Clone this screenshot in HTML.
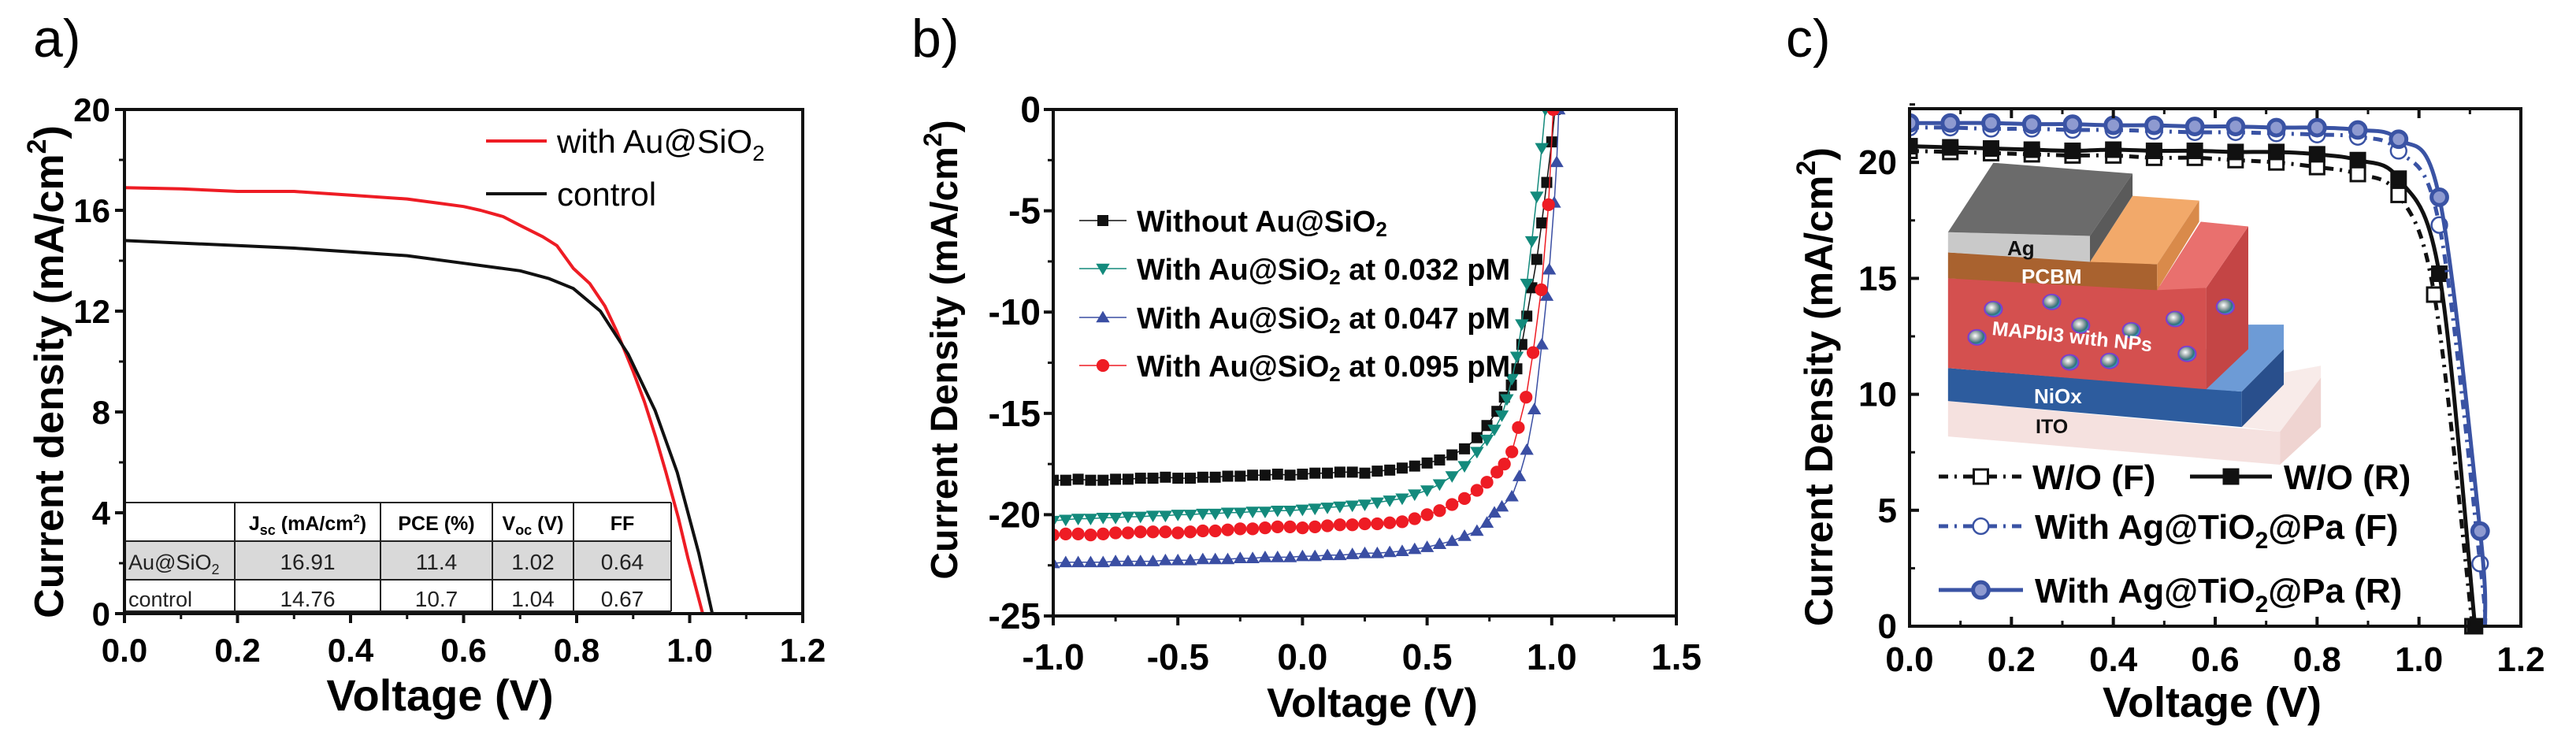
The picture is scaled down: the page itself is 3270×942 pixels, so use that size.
<!DOCTYPE html>
<html><head><meta charset="utf-8">
<style>
html,body{margin:0;padding:0;background:#fff;}
svg{display:block;font-family:"Liberation Sans",Arial,sans-serif;}
</style></head>
<body>
<svg id="fig" width="3270" height="942" viewBox="0 0 3270 942" xmlns="http://www.w3.org/2000/svg">
<rect x="0" y="0" width="3270" height="942" fill="#fff"/>
<g id="pa"></g>
<g id="pb"></g>
<g id="pc">
  <g transform="translate(2170,0) scale(0.693,0.599)">
    <defs>
      <radialGradient id="np" cx="0.4" cy="0.4" r="0.6">
        <stop offset="0" stop-color="#ffffff"/><stop offset="0.45" stop-color="#9aa7a8"/><stop offset="0.8" stop-color="#2e6f7a"/><stop offset="1" stop-color="#3aa8d8"/>
      </radialGradient>
    </defs>
    <polygon points="437,850 1045,915 1045,985 437,925" fill="#f5e1df"/>
    <polygon points="1045,915 1120,800 1120,905 1045,985" fill="#efd4d1"/>
    <polygon points="975,905 1050,790 1120,775 1120,800 1045,915" fill="#f8ebe9"/>
    <polygon points="437,780 975,830 975,905 437,850" fill="#2d5c9e"/>
    <polygon points="975,830 1052,740 1052,815 975,905" fill="#294f8c"/>
    <polygon points="910,740 975,688 1052,688 1052,740 975,830 910,825" fill="#6d9bd6"/>
    <polygon points="437,590 910,610 910,825 437,780" fill="#d4504f"/>
    <polygon points="910,610 987,480 987,740 910,825" fill="#c44545"/>
    <polygon points="820,615 900,470 987,480 910,610" fill="#e9706e"/>
    <polygon points="437,535 820,560 820,615 437,590" fill="#a9622f"/>
    <polygon points="697,555 775,415 897,425 820,560" fill="#f2a96a"/>
    <polygon points="820,560 897,425 897,470 820,615" fill="#d98a4a"/>
    <polygon points="437,492 697,500 697,555 437,535" fill="#c9c9c9"/>
    <polygon points="437,492 520,345 775,368 697,500" fill="#6b6b6b"/>
    <polygon points="697,500 775,368 775,415 697,555" fill="#5a5a5a"/>
    <g stroke="#7b3fd0" stroke-width="3">
      <circle cx="520" cy="655" r="16" fill="url(#np)"/>
      <circle cx="627" cy="640" r="16" fill="url(#np)"/>
      <circle cx="680" cy="690" r="16" fill="url(#np)"/>
      <circle cx="773" cy="700" r="16" fill="url(#np)"/>
      <circle cx="490" cy="715" r="16" fill="url(#np)"/>
      <circle cx="660" cy="768" r="16" fill="url(#np)"/>
      <circle cx="733" cy="765" r="16" fill="url(#np)"/>
      <circle cx="853" cy="676" r="16" fill="url(#np)"/>
      <circle cx="875" cy="750" r="16" fill="url(#np)"/>
      <circle cx="945" cy="650" r="16" fill="url(#np)"/>
    </g>
  </g>
  <text x="2548" y="324" font-size="26" font-weight="bold" fill="#111">Ag</text>
  <text x="2566" y="360" font-size="26" font-weight="bold" fill="#fff">PCBM</text>
  <text x="2528" y="425" font-size="25" font-weight="bold" fill="#fff" transform="rotate(6 2528 425)">MAPbI3 with NPs</text>
  <text x="2582" y="512" font-size="26" font-weight="bold" fill="#fff">NiOx</text>
  <text x="2584" y="550" font-size="25" font-weight="bold" fill="#111">ITO</text>
</g>
</svg>
<script>
// ---------- Panel a data ----------
const aRedV = [0,0.1,0.2,0.3,0.4,0.5,0.55,0.6,0.63,0.67,0.7,0.74,0.765,0.794,0.823,0.85,0.871,0.9,0.92,0.94,0.958,0.98,0.997,1.01,1.023];
const aRedJ = [16.9,16.85,16.75,16.75,16.6,16.45,16.3,16.15,16.0,15.75,15.4,14.95,14.6,13.7,13.1,12.2,11.2,9.6,8.4,7.0,5.6,3.8,2.2,1.1,0];
const aBlkV = [0,0.1,0.2,0.3,0.4,0.5,0.6,0.7,0.75,0.794,0.842,0.891,0.939,0.978,1.016,1.04];
const aBlkJ = [14.8,14.7,14.6,14.5,14.35,14.2,13.9,13.6,13.3,12.9,12.0,10.3,8.05,5.6,2.4,0];
const aXTicks = ["0.0","0.2","0.4","0.6","0.8","1.0","1.2"];
const aYTicks = ["0","4","8","12","16","20"];
const tblHead = ["", "J_sc (mA/cm2)", "PCE (%)", "V_oc (V)", "FF"];
const tblRow1 = ["Au@SiO2","16.91","11.4","1.02","0.64"];
const tblRow2 = ["control","14.76","10.7","1.04","0.67"];

// ---------- Panel b data ----------
const bBaseV = [-1.00,-0.95,-0.90,-0.85,-0.80,-0.75,-0.70,-0.65,-0.60,-0.55,-0.50,-0.45,-0.40,-0.35,-0.30,-0.25,-0.20,-0.15,-0.10,-0.05,0.00,0.05,0.10,0.15,0.20,0.25,0.30,0.35,0.40,0.45,0.50,0.55,0.60,0.65];
const bBlackJ = [-18.3,-18.3,-18.25,-18.3,-18.3,-18.25,-18.25,-18.2,-18.2,-18.15,-18.2,-18.2,-18.15,-18.15,-18.1,-18.1,-18.05,-18.05,-18.0,-18.05,-18.0,-17.95,-17.95,-17.9,-17.9,-17.95,-17.85,-17.8,-17.7,-17.6,-17.45,-17.3,-17.05,-16.75];
const bBlackKneeV = [0.70,0.74,0.78,0.81,0.838,0.86,0.88,0.90,0.92,0.94,0.96,0.98,1.0,1.013];
const bBlackKneeJ = [-16.2,-15.6,-14.9,-14.2,-13.6,-12.8,-11.6,-10.2,-8.8,-7.4,-5.6,-3.6,-1.6,0];
const bTealJ = [-20.3,-20.25,-20.2,-20.2,-20.15,-20.15,-20.1,-20.1,-20.05,-20.05,-20.0,-20.0,-19.95,-19.95,-19.9,-19.9,-19.85,-19.85,-19.8,-19.8,-19.75,-19.7,-19.65,-19.6,-19.55,-19.5,-19.4,-19.3,-19.2,-19.0,-18.8,-18.5,-18.1,-17.6];
const bTealKneeV = [0.70,0.74,0.77,0.80,0.82,0.84,0.86,0.88,0.90,0.92,0.94,0.96,0.974];
const bTealKneeJ = [-16.9,-16.3,-15.8,-15.1,-14.3,-13.3,-12.2,-10.6,-8.6,-6.5,-4.3,-1.9,0];
const bBlueJ = [-22.4,-22.35,-22.35,-22.35,-22.35,-22.3,-22.3,-22.3,-22.3,-22.25,-22.25,-22.25,-22.2,-22.2,-22.2,-22.15,-22.15,-22.1,-22.1,-22.1,-22.05,-22.05,-22.0,-22.0,-21.95,-21.9,-21.9,-21.85,-21.8,-21.7,-21.6,-21.45,-21.3,-21.05];
const bBlueKneeV = [0.70,0.74,0.77,0.80,0.84,0.87,0.90,0.93,0.96,0.98,0.99,1.01,1.02,1.028];
const bBlueKneeJ = [-20.8,-20.4,-19.9,-19.6,-19.1,-18.1,-16.8,-14.8,-11.6,-9.2,-7.9,-4.6,-2.6,0];
const bRedJ = [-21.0,-20.95,-20.95,-21.0,-20.95,-20.9,-20.9,-20.85,-20.85,-20.85,-20.9,-20.85,-20.8,-20.8,-20.75,-20.7,-20.7,-20.65,-20.6,-20.6,-20.65,-20.6,-20.55,-20.5,-20.5,-20.45,-20.45,-20.4,-20.35,-20.2,-20.0,-19.8,-19.5,-19.2];
const bRedKneeV = [0.70,0.74,0.78,0.81,0.84,0.866,0.897,0.925,0.958,0.987,1.006];
const bRedKneeJ = [-18.8,-18.4,-17.9,-17.5,-16.9,-15.7,-14.2,-12.0,-8.9,-4.7,0];
const bXTicks = ["-1.0","-0.5","0.0","0.5","1.0","1.5"];
const bYTicks = ["-25","-20","-15","-10","-5","0"];

// ---------- Panel c data ----------
const cV = [0,0.08,0.16,0.24,0.32,0.40,0.48,0.56,0.64,0.72,0.80,0.88,0.96,1.04,1.11];
const cWoR = [20.7,20.65,20.6,20.55,20.5,20.55,20.5,20.5,20.45,20.45,20.35,20.1,19.3,15.2,0];
const cVF = [0,0.08,0.16,0.24,0.32,0.40,0.48,0.56,0.64,0.72,0.80,0.88,0.96,1.03,1.105];
const cWoF = [20.5,20.45,20.4,20.35,20.3,20.3,20.2,20.2,20.1,20.0,19.8,19.5,18.6,14.3,0];
const cVB = [0,0.08,0.16,0.24,0.32,0.40,0.48,0.56,0.64,0.72,0.80,0.88,0.96,1.04,1.12,1.13];
const cAgR = [21.7,21.7,21.7,21.65,21.65,21.6,21.6,21.55,21.55,21.5,21.5,21.4,21.0,18.5,4.1,0];
const cAgF = [21.5,21.5,21.45,21.45,21.4,21.4,21.35,21.3,21.3,21.25,21.2,21.1,20.5,17.3,2.7,0];
const cXTicks = ["0.0","0.2","0.4","0.6","0.8","1.0","1.2"];
const cYTicks = ["0","5","10","15","20"];

const NS = "http://www.w3.org/2000/svg";
function mk(parent, tag, attrs, text){
  const e = document.createElementNS(NS, tag);
  for (const k in attrs) e.setAttribute(k, attrs[k]);
  if (text !== undefined) e.textContent = text;
  parent.appendChild(e);
  return e;
}
function lin(d0,d1,r0,r1){ return v => r0 + (v-d0)*(r1-r0)/(d1-d0); }
function pathD(xs, ys, sx, sy){
  return xs.map((v,i)=>(i?"L":"M")+sx(v).toFixed(1)+","+sy(ys[i]).toFixed(1)).join(" ");
}
function smoothD(xs, ys, sx, sy){
  const p = xs.map((v,i)=>[sx(v), sy(ys[i])]);
  let d = "M"+p[0][0].toFixed(1)+","+p[0][1].toFixed(1);
  for (let i=0;i<p.length-1;i++){
    const p0=p[Math.max(i-1,0)], p1=p[i], p2=p[i+1], p3=p[Math.min(i+2,p.length-1)];
    const c1=[p1[0]+(p2[0]-p0[0])/6, p1[1]+(p2[1]-p0[1])/6];
    const c2=[p2[0]-(p3[0]-p1[0])/6, p2[1]-(p3[1]-p1[1])/6];
    d += " C"+c1[0].toFixed(1)+","+c1[1].toFixed(1)+" "+c2[0].toFixed(1)+","+c2[1].toFixed(1)+" "+p2[0].toFixed(1)+","+p2[1].toFixed(1);
  }
  return d;
}

// ================= PANEL A =================
(function(){
  const g = document.getElementById("pa");
  const L=158,R=1019,T=139,B=779;
  const sx = lin(0,1.2,L,R), sy = lin(0,20,B,T);
  const lbl = mk(g,"text",{x:42,y:72,"font-size":68},"a)");
  
  
  // table
  const tb = mk(g,"g",{});
  
  
  const cols=[158,298,483,625,728,852], rows=[638,687,736,776];
  mk(tb,"rect",{x:158,y:687,width:694,height:49,fill:"#d9d9d9"});
  rows.forEach(y=>mk(tb,"line",{x1:158,x2:852,y1:y,y2:y,stroke:"#222","stroke-width":2}));
  cols.forEach(x=>mk(tb,"line",{x1:x,x2:x,y1:638,y2:776,stroke:"#222","stroke-width":2}));
  const hdr = [["",""],["J",'<tspan font-size="18" dy="6">sc</tspan><tspan dy="-6"> (mA/cm</tspan><tspan font-size="15" dy="-10">2</tspan><tspan dy="10">)</tspan>'],["PCE (%)",""],["V",'<tspan font-size="18" dy="6">oc</tspan><tspan dy="-6"> (V)</tspan>'],["FF",""]];
  for (let i=1;i<5;i++){
    const t = mk(tb,"text",{x:(cols[i]+cols[i+1])/2,y:673,"font-size":25,"font-weight":"bold","text-anchor":"middle"});
    t.innerHTML = hdr[i][0]+hdr[i][1];
    
    
  }
  [tblRow1,tblRow2].forEach((row,ri)=>{
    const y = ri?770:723;
    row.forEach((v,ci)=>{
      let t;
      if (ci===0){
        t = mk(tb,"text",{x:163,y:y,"font-size":27,fill:"#222"});
        if (v==="Au@SiO2") t.innerHTML='Au@SiO<tspan font-size="18" dy="6">2</tspan>'; else t.textContent=v;
      } else {
        t = mk(tb,"text",{x:(cols[ci]+cols[ci+1])/2,y:y,"font-size":28,"text-anchor":"middle",fill:"#222"},v);
      }
      
      
    });
  });
  // curves
  const red = mk(g,"path",{d:pathD(aRedV,aRedJ,sx,sy),fill:"none",stroke:"#ee1c24","stroke-width":4,"stroke-linejoin":"round"});
  
  
  const blk = mk(g,"path",{d:pathD(aBlkV,aBlkJ,sx,sy),fill:"none",stroke:"#111","stroke-width":4,"stroke-linejoin":"round"});
  
  
  // axes
  const ax = mk(g,"rect",{x:L,y:T,width:R-L,height:B-T,fill:"none",stroke:"#111","stroke-width":4});
  
  
  aYTicks.forEach((t,i)=>{
    const v=+t, y=sy(v);
    mk(g,"line",{x1:L-12,x2:L,y1:y,y2:y,stroke:"#111","stroke-width":4});
    if (i<aYTicks.length-1) mk(g,"line",{x1:L-7,x2:L,y1:sy(v+2),y2:sy(v+2),stroke:"#111","stroke-width":3});
    const tl = mk(g,"text",{x:L-18,y:y+15,"font-size":42,"font-weight":"bold","text-anchor":"end"},t);
    
    
  });
  aXTicks.forEach((t,i)=>{
    const v=+t, x=sx(v);
    mk(g,"line",{x1:x,x2:x,y1:B,y2:B+12,stroke:"#111","stroke-width":4});
    if (i<aXTicks.length-1) mk(g,"line",{x1:sx(v+0.1),x2:sx(v+0.1),y1:B,y2:B+7,stroke:"#111","stroke-width":3});
    const tl = mk(g,"text",{x:x,y:840,"font-size":42,"font-weight":"bold","text-anchor":"middle"},t);
    
    
  });
  const xt = mk(g,"text",{x:(L+R)/2-30,y:902,"font-size":56,"font-weight":"bold","text-anchor":"middle"},"Voltage (V)");
  
  
  const yt = mk(g,"text",{x:0,y:0,"font-size":52,"font-weight":"bold","text-anchor":"middle",transform:"translate(80,472) rotate(-90)"});
  yt.innerHTML='Current density (mA/cm<tspan font-size="34" dy="-22">2</tspan><tspan dy="22">)</tspan>';
  
  
  // legend
  const lg = mk(g,"g",{});
  
  
  mk(lg,"line",{x1:617,x2:694,y1:179,y2:179,stroke:"#ee1c24","stroke-width":4});
  const l1 = mk(lg,"text",{x:707,y:194,"font-size":42});
  l1.innerHTML='with Au@SiO<tspan font-size="28" dy="10">2</tspan>';
  
  
  mk(lg,"line",{x1:617,x2:694,y1:246,y2:246,stroke:"#111","stroke-width":4});
  const l2 = mk(lg,"text",{x:707,y:261,"font-size":42},"control");
  
  
})();

// ================= PANEL B =================
(function(){
  const g = document.getElementById("pb");
  const L=1337,R=2128,T=139,B=782;
  const sx = lin(-1,1.5,L,R), sy = lin(-25,0,B,T);
  const lbl = mk(g,"text",{x:1157,y:72,"font-size":68},"b)");
  
  
  const clip = mk(g,"clipPath",{id:"clipb"});
  mk(clip,"rect",{x:L,y:T-2,width:R-L,height:B-T+4});
  const series = [
    {name:"without",color:"#111",J:bBlackJ,kv:bBlackKneeV,kj:bBlackKneeJ,m:"sq"},
    {name:"0-032pm",color:"#138a7c",J:bTealJ,kv:bTealKneeV,kj:bTealKneeJ,m:"tdown"},
    {name:"0-047pm",color:"#3a4ea3",J:bBlueJ,kv:bBlueKneeV,kj:bBlueKneeJ,m:"tup"},
    {name:"0-095pm",color:"#ee1c24",J:bRedJ,kv:bRedKneeV,kj:bRedKneeJ,m:"circ"}
  ];
  function marker(parent,type,x,y,color,s){
    let e;
    if (type==="sq") e=mk(parent,"rect",{x:x-s/2,y:y-s/2,width:s,height:s,fill:color});
    else if (type==="circ") e=mk(parent,"ellipse",{cx:x,cy:y,rx:s*0.58,ry:s*0.58,fill:color});
    else if (type==="tup") e=mk(parent,"polygon",{points:`${x},${y-s*0.6} ${x+s*0.62},${y+s*0.45} ${x-s*0.62},${y+s*0.45}`,fill:color});
    else e=mk(parent,"polygon",{points:`${x},${y+s*0.6} ${x+s*0.62},${y-s*0.45} ${x-s*0.62},${y-s*0.45}`,fill:color});
    return e;
  }
  series.forEach(s=>{
    const V = bBaseV.concat(s.kv), J = s.J.concat(s.kj);
    const sg = mk(g,"g",{"clip-path":"url(#clipb)"});
    
    
    mk(sg,"path",{d:pathD(V,J,sx,sy),fill:"none",stroke:s.color,"stroke-width":1.5});
    V.forEach((v,i)=>{
      const m = marker(sg,s.m,sx(v),sy(J[i]),s.color,14);
      
      
    });
  });
  const ax = mk(g,"rect",{x:L,y:T,width:R-L,height:B-T,fill:"none",stroke:"#111","stroke-width":4});
  
  
  bYTicks.forEach((t,i)=>{
    const v=+t, y=sy(v);
    mk(g,"line",{x1:L-12,x2:L,y1:y,y2:y,stroke:"#111","stroke-width":4});
    if (i<bYTicks.length-1) mk(g,"line",{x1:L-7,x2:L,y1:sy(v+2.5),y2:sy(v+2.5),stroke:"#111","stroke-width":3});
    const tl = mk(g,"text",{x:L-16,y:y+16,"font-size":46,"font-weight":"bold","text-anchor":"end"},t);
    
    
  });
  bXTicks.forEach((t,i)=>{
    const v=+t, x=sx(v);
    mk(g,"line",{x1:x,x2:x,y1:B,y2:B+12,stroke:"#111","stroke-width":4});
    if (i<bXTicks.length-1) mk(g,"line",{x1:sx(v+0.25),x2:sx(v+0.25),y1:B,y2:B+7,stroke:"#111","stroke-width":3});
    const tl = mk(g,"text",{x:x,y:850,"font-size":46,"font-weight":"bold","text-anchor":"middle"},t);
    
    
  });
  const xt = mk(g,"text",{x:1742,y:910,"font-size":52,"font-weight":"bold","text-anchor":"middle"},"Voltage (V)");
  
  
  const yt = mk(g,"text",{x:0,y:0,"font-size":48,"font-weight":"bold","text-anchor":"middle",transform:"translate(1215,444) rotate(-90)"});
  yt.innerHTML='Current Density (mA/cm<tspan font-size="32" dy="-20">2</tspan><tspan dy="20">)</tspan>';
  
  
  const lg = mk(g,"g",{});
  
  
  const ly=[280,341,403,464];
  const labels=['Without Au@SiO<tspan font-size="26" dy="6">2</tspan>',
    'With Au@SiO<tspan font-size="26" dy="6">2</tspan><tspan dy="-6"> at 0.032 pM</tspan>',
    'With Au@SiO<tspan font-size="26" dy="6">2</tspan><tspan dy="-6"> at 0.047 pM</tspan>',
    'With Au@SiO<tspan font-size="26" dy="6">2</tspan><tspan dy="-6"> at 0.095 pM</tspan>'];
  series.forEach((s,i)=>{
    const e = mk(lg,"g",{});
    
    
    mk(e,"line",{x1:1370,x2:1430,y1:ly[i],y2:ly[i],stroke:s.color,"stroke-width":1.5});
    marker(e,s.m,1400,ly[i],s.color,14);
    const t = mk(e,"text",{x:1443,y:ly[i]+14,"font-size":38,"font-weight":"bold"});
    t.innerHTML = labels[i];
  });
})();

// ================= PANEL C =================
(function(){
  const g = document.getElementById("pc");
  const L=2424,R=3200,T=138,B=795;
  const sx = lin(0,1.2,L,R), sy = lin(0,20,B,B-20*29.44);
  const lbl = mk(g,"text",{x:2267,y:72,"font-size":68},"c)");
  
  
  const clip = mk(g,"clipPath",{id:"clipc"});
  mk(clip,"rect",{x:L,y:T,width:R-L,height:B-T+12});
  const series=[
    {name:"wo-f",V:cVF,J:cWoF,color:"#111",fill:"#fff",m:"sq",dash:"12,8,3,8",mark:cVF.length},
    {name:"wo-r",V:cV,J:cWoR,color:"#111",fill:"#111",m:"sq",dash:"",mark:cV.length},
    {name:"ag-tio2-pa-f",V:cVB,J:cAgF,color:"#3a53a4",fill:"#fff",m:"circ",dash:"12,8,3,8",mark:cVB.length-1},
    {name:"ag-tio2-pa-r",V:cVB,J:cAgR,color:"#3a53a4",fill:"#8e9ad0",m:"circ",dash:"",mark:cVB.length-1}
  ];
  function marker(parent,s,x,y,sz){
    if (s.m==="sq") return mk(parent,"rect",{x:x-sz/2,y:y-sz/2,width:sz,height:sz,fill:s.fill,stroke:s.color,"stroke-width":3});
    const e = mk(parent,"ellipse",{cx:x,cy:y,rx:sz*0.55,ry:sz*0.55,fill:s.fill,stroke:s.color,"stroke-width":s.fill==="#fff"?2.5:5});
    return e;
  }
  series.forEach(s=>{
    const sg = mk(g,"g",{"clip-path":"url(#clipc)"});
    
    
    const a = {d:smoothD(s.V,s.J,sx,sy),fill:"none",stroke:s.color,"stroke-width":5};
    if (s.dash) a["stroke-dasharray"]=s.dash;
    mk(sg,"path",a);
    s.V.forEach((v,i)=>{
      if (i>=s.mark) return;
      const m = marker(sg,s,sx(v),sy(s.J[i]),18);
      
      
    });
  });
  const ax = mk(g,"rect",{x:L,y:T,width:R-L,height:B-T,fill:"none",stroke:"#111","stroke-width":4});
  
  
  cYTicks.forEach((t,i)=>{
    const v=+t, y=sy(v);
    mk(g,"line",{x1:L,x2:L+12,y1:y,y2:y,stroke:"#111","stroke-width":4});
    mk(g,"line",{x1:L,x2:L+7,y1:sy(v+2.5),y2:sy(v+2.5),stroke:"#111","stroke-width":3});
    const tl = mk(g,"text",{x:L-16,y:y+15,"font-size":44,"font-weight":"bold","text-anchor":"end"},t);
    
    
  });
  cXTicks.forEach((t,i)=>{
    const v=+t, x=sx(v);
    mk(g,"line",{x1:x,x2:x,y1:B,y2:B-12,stroke:"#111","stroke-width":4});
    mk(g,"line",{x1:x,x2:x,y1:T,y2:T+12,stroke:"#111","stroke-width":4});
    if (i<cXTicks.length-1){
      mk(g,"line",{x1:sx(v+0.1),x2:sx(v+0.1),y1:B,y2:B-7,stroke:"#111","stroke-width":3});
      mk(g,"line",{x1:sx(v+0.1),x2:sx(v+0.1),y1:T,y2:T+7,stroke:"#111","stroke-width":3});
    }
    const tl = mk(g,"text",{x:x,y:852,"font-size":44,"font-weight":"bold","text-anchor":"middle"},t);
    
    
  });
  const xt = mk(g,"text",{x:2808,y:910,"font-size":54,"font-weight":"bold","text-anchor":"middle"},"Voltage (V)");
  
  
  const yt = mk(g,"text",{x:0,y:0,"font-size":50,"font-weight":"bold","text-anchor":"middle",transform:"translate(2326,491) rotate(-90)"});
  yt.innerHTML='Current Density (mA/cm<tspan font-size="34" dy="-22">2</tspan><tspan dy="22">)</tspan>';
  
  
  const lg = mk(g,"g",{});
  
  
  const ent=[
    {s:series[0],x1:2461,x2:2568,y:605,tx:2580,html:"W/O (F)"},
    {s:series[1],x1:2780,x2:2884,y:605,tx:2899,html:"W/O (R)"},
    {s:series[2],x1:2461,x2:2568,y:668,tx:2583,html:'With Ag@TiO<tspan font-size="30" dy="12">2</tspan><tspan dy="-12">@Pa (F)</tspan>'},
    {s:series[3],x1:2461,x2:2568,y:749,tx:2583,html:'With Ag@TiO<tspan font-size="30" dy="12">2</tspan><tspan dy="-12">@Pa (R)</tspan>'}
  ];
  ent.forEach(e=>{
    const eg = mk(lg,"g",{});
    
    
    const a={x1:e.x1,x2:e.x2,y1:e.y,y2:e.y,stroke:e.s.color,"stroke-width":5};
    if (e.s.dash) a["stroke-dasharray"]="12,8,3,8";
    mk(eg,"line",a);
    marker(eg,e.s,(e.x1+e.x2)/2,e.y,18);
    const t = mk(eg,"text",{x:e.tx,y:e.y+16,"font-size":44,"font-weight":"bold"});
    t.innerHTML = e.html;
  });
})();
</script>
</body></html>
